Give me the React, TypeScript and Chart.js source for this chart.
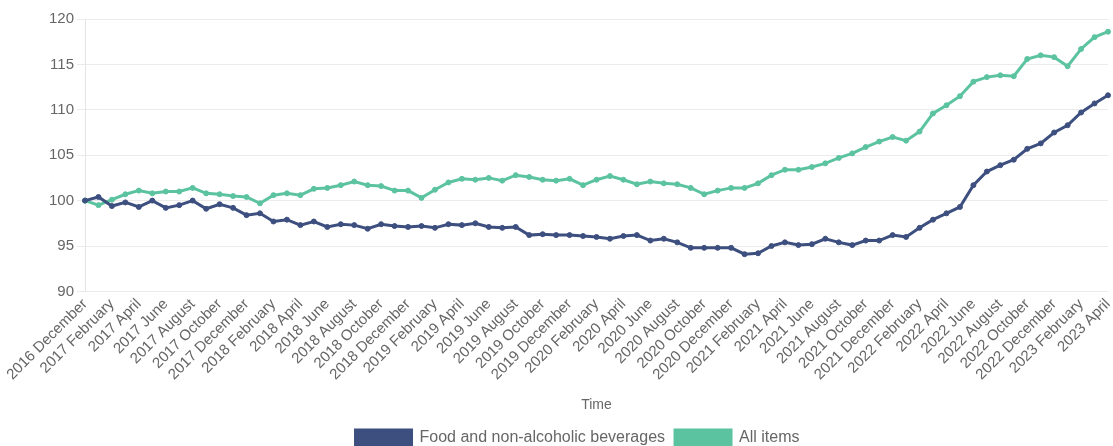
import React, { useEffect, useRef } from "react";
import { Chart, registerables } from "chart.js";

Chart.register(...registerables);

const months: string[] = [
  "2016 December",
  "2017 January", "2017 February", "2017 March", "2017 April", "2017 May", "2017 June",
  "2017 July", "2017 August", "2017 September", "2017 October", "2017 November", "2017 December",
  "2018 January", "2018 February", "2018 March", "2018 April", "2018 May", "2018 June",
  "2018 July", "2018 August", "2018 September", "2018 October", "2018 November", "2018 December",
  "2019 January", "2019 February", "2019 March", "2019 April", "2019 May", "2019 June",
  "2019 July", "2019 August", "2019 September", "2019 October", "2019 November", "2019 December",
  "2020 January", "2020 February", "2020 March", "2020 April", "2020 May", "2020 June",
  "2020 July", "2020 August", "2020 September", "2020 October", "2020 November", "2020 December",
  "2021 January", "2021 February", "2021 March", "2021 April", "2021 May", "2021 June",
  "2021 July", "2021 August", "2021 September", "2021 October", "2021 November", "2021 December",
  "2022 January", "2022 February", "2022 March", "2022 April", "2022 May", "2022 June",
  "2022 July", "2022 August", "2022 September", "2022 October", "2022 November", "2022 December",
  "2023 January", "2023 February", "2023 March", "2023 April",
];

const foodValues: number[] = [
  100, 100.4, 99.4, 99.8, 99.3, 100.0, 99.2, 99.5, 100.0, 99.1,
  99.6, 99.2, 98.4, 98.6, 97.7, 97.9, 97.3, 97.7, 97.1, 97.4,
  97.3, 96.9, 97.4, 97.2, 97.1, 97.2, 97.0, 97.4, 97.3, 97.5,
  97.1, 97.0, 97.1, 96.2, 96.3, 96.2, 96.2, 96.1, 96.0, 95.8,
  96.1, 96.2, 95.6, 95.8, 95.4, 94.8, 94.8, 94.8, 94.8, 94.1,
  94.2, 95.0, 95.4, 95.1, 95.2, 95.8, 95.4, 95.1, 95.6, 95.6,
  96.2, 96.0, 97.0, 97.9, 98.6, 99.3, 101.7, 103.2, 103.9, 104.5,
  105.7, 106.3, 107.5, 108.3, 109.7, 110.7, 111.6,
];

const allItemsValues: number[] = [
  100, 99.5, 100.1, 100.7, 101.1, 100.8, 101.0, 101.0, 101.4, 100.8,
  100.7, 100.5, 100.4, 99.7, 100.6, 100.8, 100.6, 101.3, 101.4, 101.7,
  102.1, 101.7, 101.6, 101.1, 101.1, 100.3, 101.2, 102.0, 102.4, 102.3,
  102.5, 102.2, 102.8, 102.6, 102.3, 102.2, 102.4, 101.7, 102.3, 102.7,
  102.3, 101.8, 102.1, 101.9, 101.8, 101.4, 100.7, 101.1, 101.4, 101.4,
  101.9, 102.8, 103.4, 103.4, 103.7, 104.1, 104.7, 105.2, 105.9, 106.5,
  107.0, 106.6, 107.6, 109.6, 110.5, 111.5, 113.1, 113.6, 113.8, 113.7,
  115.6, 116.0, 115.8, 114.8, 116.7, 118.0, 118.6,
];

const seriesNames: string[] = ["Food and non-alcoholic beverages", "All items"];
const seriesColors: string[] = ["#3d4f7f", "#5cc3a0"];
const xTitle = "Time";

const FONT = "'Liberation Sans', Arial, sans-serif";

const legendShift = {
  id: "legendShift",
  afterLayout(chart: any) {
    const lg = chart.legend;
    if (!lg) return;
    lg.left += 21;
    lg.right += 21;
    lg.top += 10;
    lg.bottom += 10;
  },
};

export default function App() {
  const ref = useRef<HTMLCanvasElement | null>(null);

  useEffect(() => {
    if (!ref.current) return;
    const chart = new Chart(ref.current, {
      type: "line",
      data: {
        labels: months,
        datasets: [
          {
            label: seriesNames[0],
            data: foodValues,
            borderColor: seriesColors[0],
            backgroundColor: seriesColors[0],
            borderWidth: 3,
            pointRadius: 2.5,
            pointBorderWidth: 1,
            tension: 0,
          },
          {
            label: seriesNames[1],
            data: allItemsValues,
            borderColor: seriesColors[1],
            backgroundColor: seriesColors[1],
            borderWidth: 3,
            pointRadius: 2.5,
            pointBorderWidth: 1,
            tension: 0,
          },
        ],
      },
      options: {
        animation: false,
        responsive: true,
        maintainAspectRatio: false,
        layout: { padding: { top: 19, right: 0, left: 0, bottom: 0 } },
        plugins: {
          legend: {
            position: "bottom",
            labels: {
              boxWidth: 56,
              boxHeight: 16,
              color: "#666",
              font: { family: FONT, size: 16 },
              padding: 10,
            },
          },
          tooltip: { enabled: false },
        },
        scales: {
          x: {
            grid: { display: false, drawTicks: false },
            border: { display: false },
            afterFit: (s: any) => {
              s.paddingLeft = 85;
              s.paddingRight = 0;
            },
            ticks: {
              autoSkip: false,
              maxRotation: 45,
              minRotation: 45,
              padding: 4,
              color: "#666",
              font: { family: FONT, size: 15 },
              callback: function (this: any, _v: any, index: number) {
                return index % 2 === 0 ? months[index] : null;
              },
            },
            title: {
              display: true,
              text: xTitle,
              color: "#666",
              padding: { top: 9, bottom: -3.4 },
              font: { family: FONT, size: 14 },
            },
          },
          y: {
            min: 90,
            max: 120,
            ticks: {
              stepSize: 5,
              color: "#666",
              font: { family: FONT, size: 15 },
            },
            grid: { color: "rgba(0,0,0,0.08)" },
            border: { color: "rgba(0,0,0,0.1)" },
          },
        },
      },
      plugins: [legendShift],
    });
    return () => chart.destroy();
  }, []);

  return (
    <div style={{ position: "fixed", left: 0, top: 0, width: 1113, height: 446 }}>
      <canvas ref={ref} />
    </div>
  );
}
